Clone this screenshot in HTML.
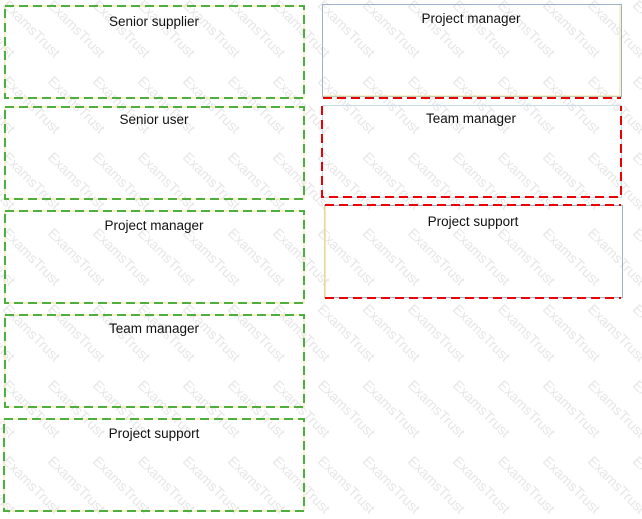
<!DOCTYPE html>
<html><head><meta charset="utf-8"><style>
html,body{margin:0;padding:0;background:#fff;}
svg{display:block;}
text.l{font-family:"Liberation Sans",sans-serif;font-size:13.5px;fill:#111;text-anchor:middle;}
</style></head><body>
<svg width="642" height="519" viewBox="0 0 642 519" xmlns="http://www.w3.org/2000/svg">
<defs>
<pattern id="wm" x="0" y="0" width="45" height="76" patternUnits="userSpaceOnUse">
<g font-family="Liberation Sans, sans-serif" font-size="14" fill="#e6e6e6">
<text transform="translate(2,6) rotate(45)">ExamsTrust</text>
<text transform="translate(-43,6) rotate(45)">ExamsTrust</text>
<text transform="translate(2,-70) rotate(45)">ExamsTrust</text>
<text transform="translate(-43,-70) rotate(45)">ExamsTrust</text>
</g>
</pattern>
</defs>
<rect width="642" height="519" fill="#fff"/>
<rect width="642" height="519" fill="url(#wm)"/>
<g fill="none" stroke-width="2">
<g>
<rect x="5" y="6" width="299" height="92" stroke="#f2e29a" stroke-width="1"/>
<rect x="5" y="6" width="299" height="92" stroke="#4caf3f" stroke-dasharray="9,5"/>
<rect x="5" y="107" width="299" height="92" stroke="#f2e29a" stroke-width="1"/>
<rect x="5" y="107" width="299" height="92" stroke="#4caf3f" stroke-dasharray="9,5"/>
<rect x="5" y="211" width="299" height="92" stroke="#f2e29a" stroke-width="1"/>
<rect x="5" y="211" width="299" height="92" stroke="#4caf3f" stroke-dasharray="9,5"/>
<rect x="5" y="315" width="299" height="92" stroke="#f2e29a" stroke-width="1"/>
<rect x="5" y="315" width="299" height="92" stroke="#4caf3f" stroke-dasharray="9,5"/>
<rect x="4" y="419" width="300" height="92" stroke="#f2e29a" stroke-width="1"/>
<rect x="4" y="419" width="300" height="92" stroke="#4caf3f" stroke-dasharray="9,5"/>
</g>
<rect x="322.5" y="4.5" width="299" height="92" stroke="#9fb3c8" stroke-width="1"/>
<line x1="323" y1="96" x2="620" y2="96" stroke="#f2e29a" stroke-width="1"/>
<line x1="620" y1="5" x2="620" y2="96" stroke="#f2e29a" stroke-width="1"/>
<line x1="323" y1="98" x2="621" y2="98" stroke="#e00" stroke-dasharray="9,5"/>

<rect x="322.5" y="105.5" width="299" height="92" stroke="#c5dde6" stroke-width="1"/>
<polyline points="322,106 322,197 621,197 621,106" stroke="#e00" stroke-dasharray="9,5"/>

<rect x="324.5" y="205.5" width="298" height="92" stroke="#9fb3c8" stroke-width="1"/>
<line x1="325" y1="206" x2="325" y2="297" stroke="#f2e29a" stroke-width="1.5"/>
<line x1="325" y1="205" x2="621" y2="205" stroke="#e00" stroke-dasharray="9,5"/>
<line x1="325" y1="298" x2="621" y2="298" stroke="#e00" stroke-dasharray="9,5"/>
</g>
<text class="l" x="154" y="26">Senior supplier</text>
<text class="l" x="154" y="124">Senior user</text>
<text class="l" x="154" y="230">Project manager</text>
<text class="l" x="154" y="333">Team manager</text>
<text class="l" x="154" y="438">Project support</text>
<text class="l" x="471" y="23">Project manager</text>
<text class="l" x="471" y="123">Team manager</text>
<text class="l" x="473" y="226">Project support</text>
</svg>
</body></html>
